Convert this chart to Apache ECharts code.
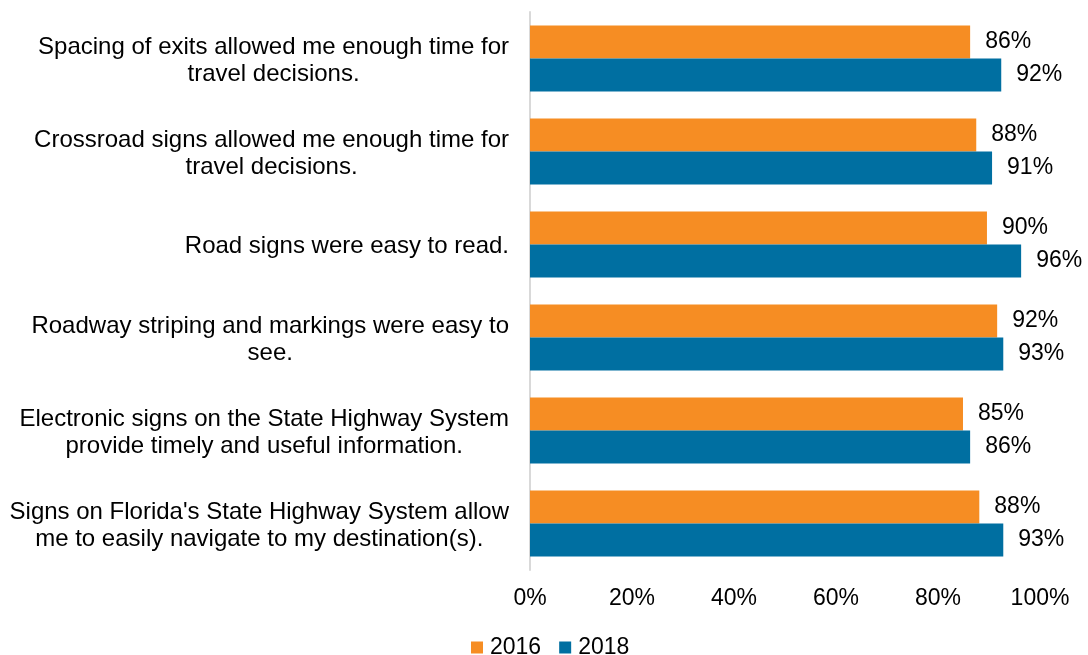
<!DOCTYPE html>
<html>
<head>
<meta charset="utf-8">
<script src="https://cdn.jsdelivr.net/npm/echarts@6/dist/echarts.min.js"></script>
<style>
html,body{margin:0;padding:0;background:#fff;}
#chart{width:1088px;height:655px;}
</style>
</head>
<body>
<div id="chart"></div>
<script>
const categories = [
  "Spacing of exits allowed me enough time for\ntravel decisions.",
  "Crossroad signs allowed me enough time for\ntravel decisions.",
  "Road signs were easy to read.",
  "Roadway striping and markings were easy to\nsee.",
  "Electronic signs on the State Highway System\nprovide timely and useful information.",
  "Signs on Florida's State Highway System allow\nme to easily navigate to my destination(s)."
];
const seriesNames = ["2016", "2018"];
const values2016 = [86.3, 87.5, 89.6, 91.6, 84.9, 88.1];
const values2018 = [92.4, 90.6, 96.3, 92.8, 86.3, 92.8];
const xTicks = [0, 20, 40, 60, 80, 100];

const FONT = "'Liberation Sans', Arial, sans-serif";
const FS = 23;
const FS_CAT = 24;
const chart = echarts.init(document.getElementById('chart'), null, {renderer: 'canvas'});
const labelCfg = {
  show: true,
  position: 'right',
  distance: 15,
  fontFamily: FONT,
  fontSize: FS,
  color: '#000',
  formatter: p => Math.round(p.value) + '%'
};
chart.setOption({
  animation: false,
  backgroundColor: '#fff',
  textStyle: {fontFamily: FONT},
  grid: {left: 530, right: 48, top: 12, bottom: 85, containLabel: false},
  legend: {
    data: seriesNames,
    left: 466,
    top: 631,
    icon: 'rect',
    itemWidth: 12,
    itemHeight: 12,
    itemGap: 18,
    textStyle: {fontFamily: FONT, fontSize: FS, color: '#000', padding: [0, 0, 0, 2]}
  },
  xAxis: {
    type: 'value',
    min: xTicks[0],
    max: xTicks[xTicks.length - 1],
    interval: xTicks[1] - xTicks[0],
    axisLine: {show: false},
    axisTick: {show: false},
    splitLine: {show: false},
    axisLabel: {
      formatter: '{value}%',
      fontFamily: FONT,
      fontSize: FS,
      color: '#000',
      margin: 17
    }
  },
  yAxis: {
    type: 'category',
    data: categories,
    inverse: true,
    axisTick: {show: false},
    axisLine: {show: true, lineStyle: {color: '#d9d9d9', width: 2}},
    axisLabel: {
      margin: 21,
      padding: [4, 0, 0, 0],
      formatter: v => v.split('\n').map(s => '{c|' + s + '}').join('\n'),
      rich: {
        c: {align: 'center', fontFamily: FONT, fontSize: FS_CAT, color: '#000', lineHeight: 27}
      }
    }
  },
  series: [
    {
      name: seriesNames[0],
      type: 'bar',
      data: values2016,
      itemStyle: {color: '#F68D23'},
      barCategoryGap: '29%',
      barGap: '0%',
      label: labelCfg
    },
    {
      name: seriesNames[1],
      type: 'bar',
      data: values2018,
      itemStyle: {color: '#006FA1'},
      barCategoryGap: '29%',
      barGap: '0%',
      label: labelCfg
    }
  ]
});
</script>
</body>
</html>
